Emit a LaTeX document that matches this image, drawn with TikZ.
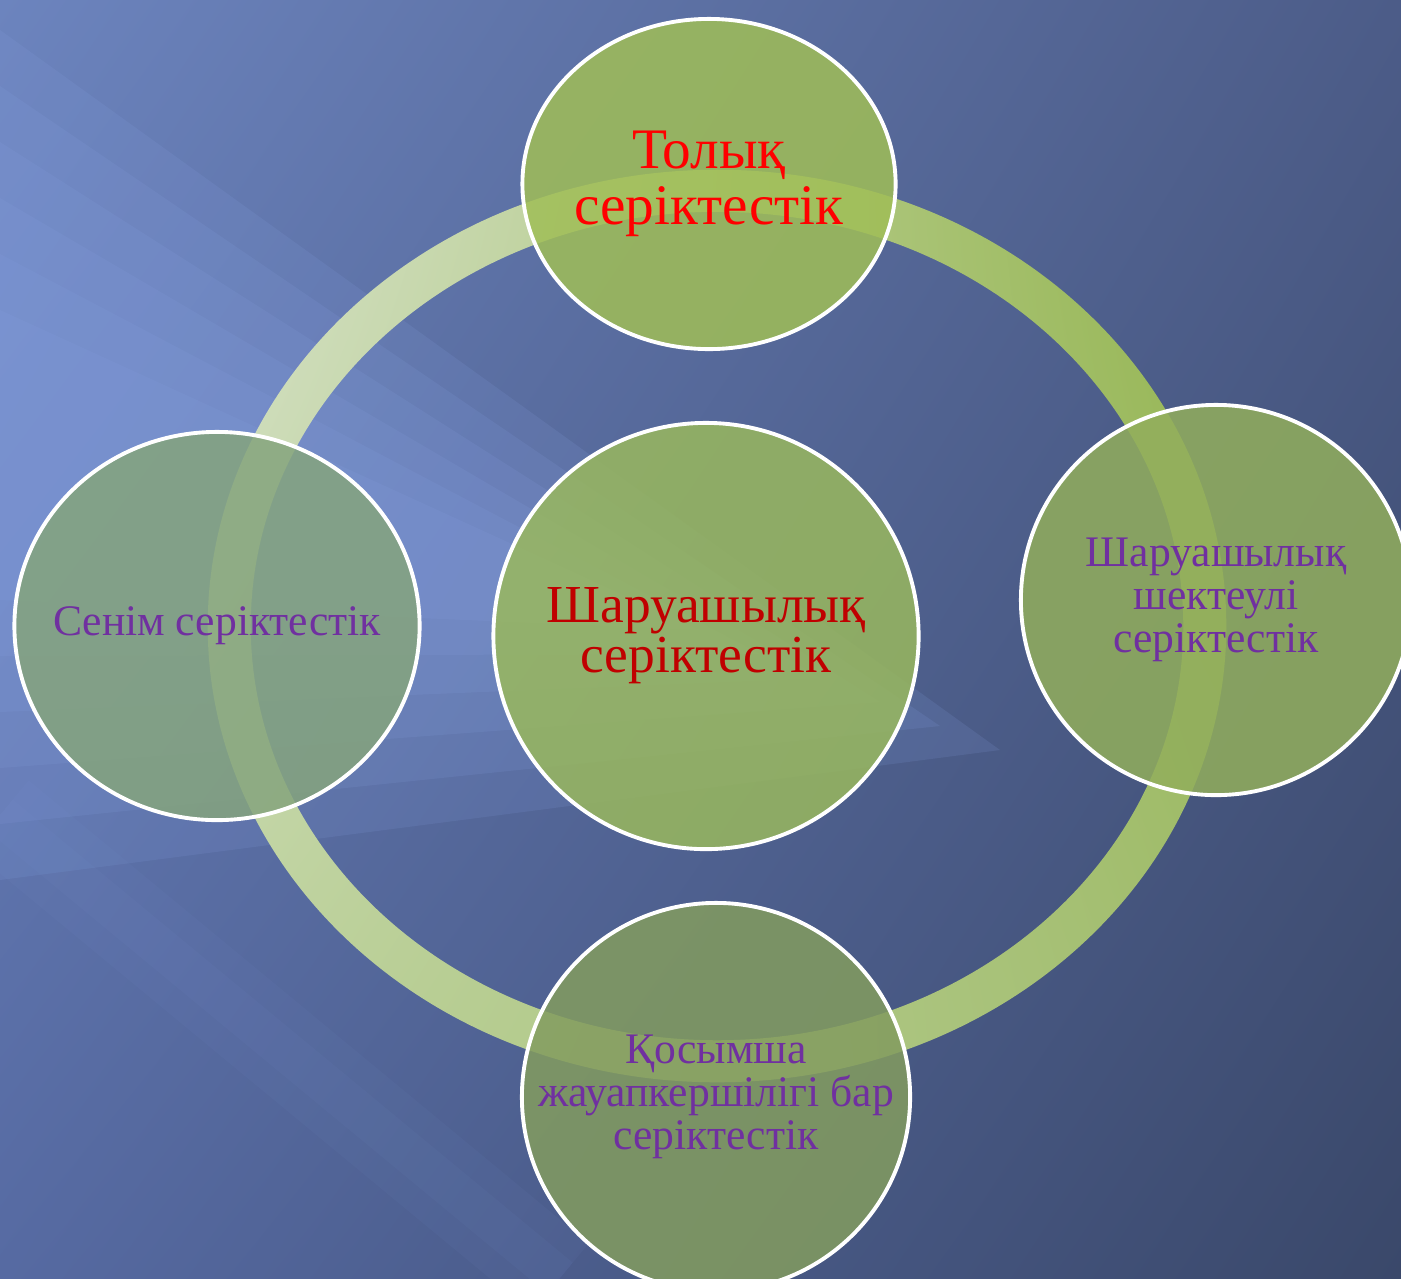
\documentclass[tikz,border=0pt]{standalone}
\usepackage{fontspec}
\setmainfont{Liberation Serif}
\usetikzlibrary{shapes.geometric,shadings}
\definecolor{bgul}{HTML}{6C84BE}
\definecolor{bgur}{HTML}{4C5C88}
\definecolor{bgll}{HTML}{566AA2}
\definecolor{bglr}{HTML}{3A486A}
\definecolor{bglight}{HTML}{88A2E2}
\definecolor{ringul}{HTML}{D8E3CC}
\definecolor{ringur}{HTML}{93B44C}
\definecolor{ringll}{HTML}{BCD19A}
\definecolor{ringlr}{HTML}{A3BE72}
\definecolor{fulltop}{HTML}{A0BE57}
\definecolor{farmmid}{HTML}{99B85E}
\definecolor{trustleft}{HTML}{85A47D}
\definecolor{limitright}{HTML}{92AE5C}
\definecolor{addbottom}{HTML}{839C5F}
\definecolor{txtred}{HTML}{FF0000}
\definecolor{txtdark}{HTML}{C00000}
\definecolor{txtviolet}{HTML}{7030A0}

\begin{document}
\begin{tikzpicture}[x=0.01cm,y=-0.01cm,
  bubble/.style={ellipse, draw=white, line width=1.1pt, fill opacity=.85,
    text opacity=1, align=center, inner sep=-1cm},
  bigfont/.style={font=\fontsize{16.3}{15.9}\selectfont},
  midfont/.style={font=\fontsize{15.2}{14.2}\selectfont},
  smallfont/.style={font=\fontsize{12.4}{12.2}\selectfont}]
\useasboundingbox (0,0) rectangle (1401,1278);

% background
\shade[upper left=bgul, upper right=bgur, lower left=bgll, lower right=bglr]
  (0,0) rectangle (1401,1278);
\foreach \t in {0,0.2,0.4,0.6,0.8,1}
  \fill[bglight, opacity=.15] (0,{30+280*\t}) -- ({1000-300*\t},{750-120*\t})
    -- (0,{880-280*\t}) -- cycle;
\foreach \w in {90,40}
  \draw[bglight, opacity=.05, line width=\w*0.01cm] (0,815) -- (560,1278);

% ring
\shade[even odd rule, upper left=ringul, upper right=ringur,
  lower left=ringll, lower right=ringlr]
  (717,626) ellipse [x radius=5.09cm, y radius=4.56cm]
  (717,626) ellipse [x radius=4.66cm, y radius=4.14cm];

% bubbles
\node[bubble, fill=fulltop, minimum width=3.73cm, minimum height=3.30cm,
  text=txtred, bigfont] (full) at (709,184) {Толық\\серіктестік};
\node[bubble, fill=farmmid, minimum width=4.25cm, minimum height=4.26cm,
  text=txtdark, midfont] (farm) at (706,636) {Шаруашылық\\серіктестік};
\node[bubble, fill=trustleft, minimum width=4.05cm, minimum height=3.88cm,
  text=txtviolet, smallfont] (trust) at (217,626) {Сенім серіктестік};
\node[bubble, fill=limitright, minimum width=3.90cm, minimum height=3.90cm,
  text=txtviolet, smallfont] (limited) at (1216,600)
  {Шаруашылық\\шектеулі\\серіктестік};
\node[bubble, fill=addbottom, minimum width=3.88cm, minimum height=3.88cm,
  text=txtviolet, smallfont] (extra) at (716,1097)
  {Қосымша\\жауапкершілігі бар\\серіктестік};
\end{tikzpicture}
\end{document}
